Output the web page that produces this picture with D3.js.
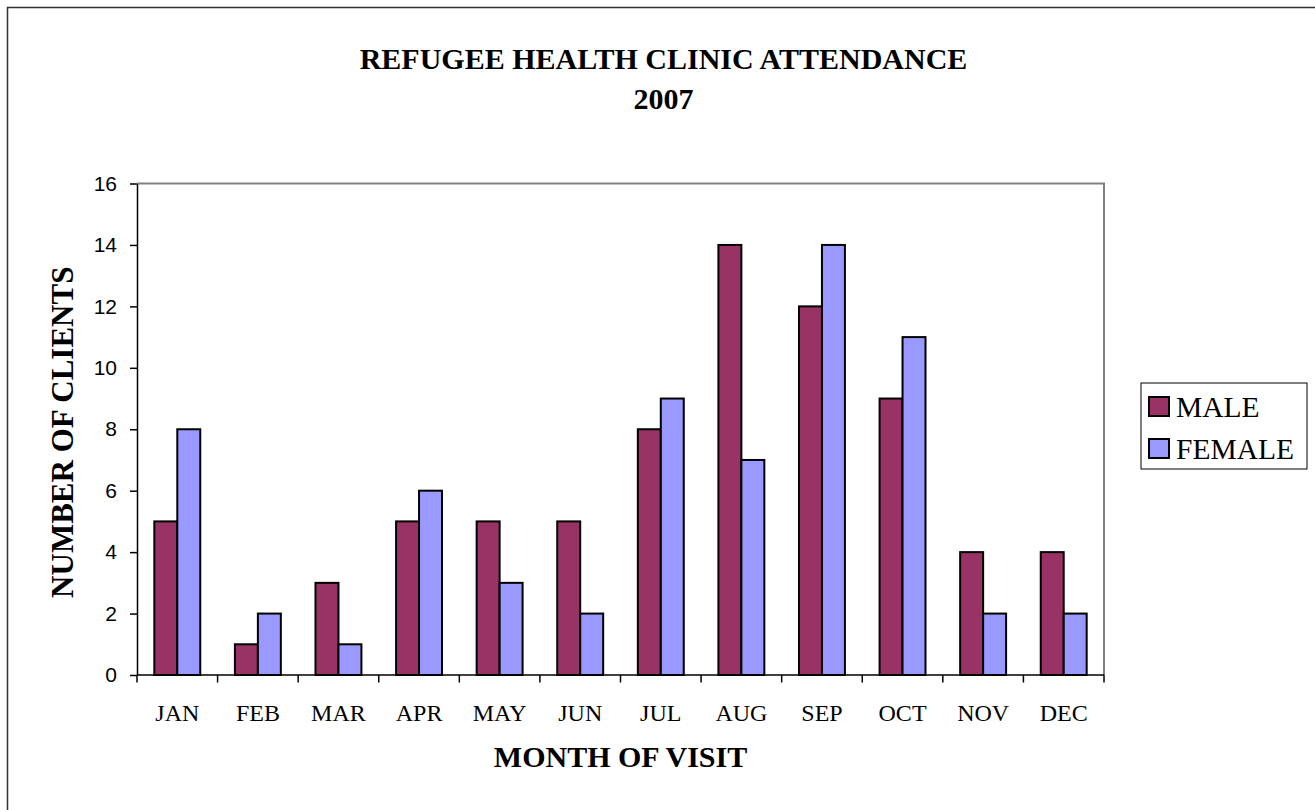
<!DOCTYPE html>
<html>
<head>
<meta charset="utf-8">
<script src="https://cdn.jsdelivr.net/npm/d3@7"></script>
<style>
  body { margin: 0; background: #fff; }
  svg { display: block; }
</style>
</head>
<body>
<div id="chart"></div>
<script>
// chart values
const months = ["JAN", "FEB", "MAR", "APR", "MAY", "JUN", "JUL", "AUG", "SEP", "OCT", "NOV", "DEC"]
const series = ["MALE", "FEMALE"]
const male = [5, 1, 3, 5, 5, 5, 8, 14, 12, 9, 4, 4]
const female = [8, 2, 1, 6, 3, 2, 9, 7, 14, 11, 2, 2]
const yTicks = [0, 2, 4, 6, 8, 10, 12, 14, 16]
const colors = ["#993366", "#9999FF"]

const width = 1315, height = 810
const plot = { left: 137, right: 1104, top: 183.5, bottom: 675 }

let svg = d3.select("#chart")
    .append("svg")
    .attr("width", width)
    .attr("height", height)

// outer chart border (runs off the right / bottom of the picture)
svg.append("rect")
    .attr("x", 7.5).attr("y", 7.5)
    .attr("width", 1330).attr("height", 830)
    .attr("fill", "none")
    .attr("stroke", "#333")
    .attr("stroke-width", 1.5)

let x = d3.scaleBand()
    .domain(months)
    .range([plot.left, plot.right])
    .paddingInner(0.43)
    .paddingOuter(0.215)

let xs = d3.scaleBand()
    .domain(series)
    .range([0, x.bandwidth()])

let y = d3.scaleLinear()
    .domain([0, 16])
    .range([plot.bottom, plot.top])

let color = d3.scaleOrdinal().domain(series).range(colors)

// gray top + right frame of plot area
svg.append("path")
    .attr("d", `M${plot.left},${plot.top}H${plot.right}V${plot.bottom}`)
    .attr("fill", "none")
    .attr("stroke", "#808080")
    .attr("stroke-width", 2)

// bars
let rows = months.map((m, i) => ({ month: m, values: [male[i], female[i]] }))
let groups = svg.selectAll("g.month")
    .data(rows)
    .enter()
    .append("g")
    .attr("class", "month")
    .attr("transform", d => `translate(${x(d.month)},0)`)

groups.selectAll("rect")
    .data(d => d.values.map((v, j) => ({ key: series[j], value: v })))
    .enter()
    .append("rect")
    .attr("x", d => xs(d.key))
    .attr("y", d => y(d.value))
    .attr("width", xs.bandwidth())
    .attr("height", d => y(0) - y(d.value))
    .attr("fill", d => color(d.key))
    .attr("stroke", "black")
    .attr("stroke-width", 2)

// y axis
let yAxis = svg.append("g")
    .attr("transform", `translate(${plot.left},0)`)
    .call(d3.axisLeft(y).tickValues(yTicks).tickSize(7).tickPadding(13).tickSizeOuter(0))
yAxis.select(".domain").attr("stroke", "black").attr("stroke-width", 1.5)
yAxis.selectAll(".tick line").attr("stroke", "black").attr("stroke-width", 1.5)
yAxis.selectAll("text")
    .attr("font-family", "'Liberation Sans', Arial, sans-serif")
    .attr("font-size", 21)
    .attr("fill", "black")

// x axis: labels centred, ticks on the band boundaries
let xAxis = svg.append("g")
    .attr("transform", `translate(0,${plot.bottom})`)
    .call(d3.axisBottom(x).tickSize(0).tickPadding(29).tickSizeOuter(0))
xAxis.select(".domain").remove()
xAxis.selectAll("text")
    .attr("font-family", "'Liberation Serif', 'Times New Roman', serif")
    .attr("font-size", 24)
    .attr("fill", "black")

let bounds = months.map(m => x(m) + x.bandwidth() / 2 - x.step() / 2)
bounds.push(plot.right)
svg.append("line")
    .attr("x1", plot.left).attr("x2", plot.right)
    .attr("y1", plot.bottom).attr("y2", plot.bottom)
    .attr("stroke", "black").attr("stroke-width", 1.5)
svg.selectAll("line.xtick")
    .data(bounds)
    .enter()
    .append("line")
    .attr("class", "xtick")
    .attr("x1", d => d).attr("x2", d => d)
    .attr("y1", plot.bottom).attr("y2", plot.bottom + 7.5)
    .attr("stroke", "black").attr("stroke-width", 1.5)

// titles
const serifBold = "'Liberation Serif', 'Times New Roman', serif"
svg.append("text")
    .attr("x", 663.5).attr("y", 69)
    .attr("text-anchor", "middle")
    .attr("font-family", serifBold).attr("font-weight", "bold").attr("font-size", 30)
    .text("REFUGEE HEALTH CLINIC ATTENDANCE")
svg.append("text")
    .attr("x", 663.5).attr("y", 109)
    .attr("text-anchor", "middle")
    .attr("font-family", serifBold).attr("font-weight", "bold").attr("font-size", 30)
    .text("2007")
svg.append("text")
    .attr("x", (plot.left + plot.right) / 2).attr("y", 767)
    .attr("text-anchor", "middle")
    .attr("font-family", serifBold).attr("font-weight", "bold").attr("font-size", 30)
    .text("MONTH OF VISIT")
svg.append("text")
    .attr("transform", `translate(73,${(plot.top + plot.bottom) / 2 + 3}) rotate(-90)`)
    .attr("text-anchor", "middle")
    .attr("font-family", serifBold).attr("font-weight", "bold").attr("font-size", 31)
    .text("NUMBER OF CLIENTS")

// legend
let legend = svg.append("g").attr("transform", "translate(1141,383)")
legend.append("rect")
    .attr("width", 166).attr("height", 86)
    .attr("fill", "white").attr("stroke", "black").attr("stroke-width", 1)
let items = legend.selectAll("g.item")
    .data(series)
    .enter()
    .append("g")
    .attr("class", "item")
    .attr("transform", (d, i) => `translate(8,${14 + i * 42})`)
items.append("rect")
    .attr("width", 20).attr("height", 19)
    .attr("fill", d => color(d))
    .attr("stroke", "black").attr("stroke-width", 2)
items.append("text")
    .attr("x", 27).attr("y", 19.5)
    .attr("font-family", "'Liberation Serif', 'Times New Roman', serif")
    .attr("font-size", 29.5)
    .text(d => d)
</script>
</body>
</html>
